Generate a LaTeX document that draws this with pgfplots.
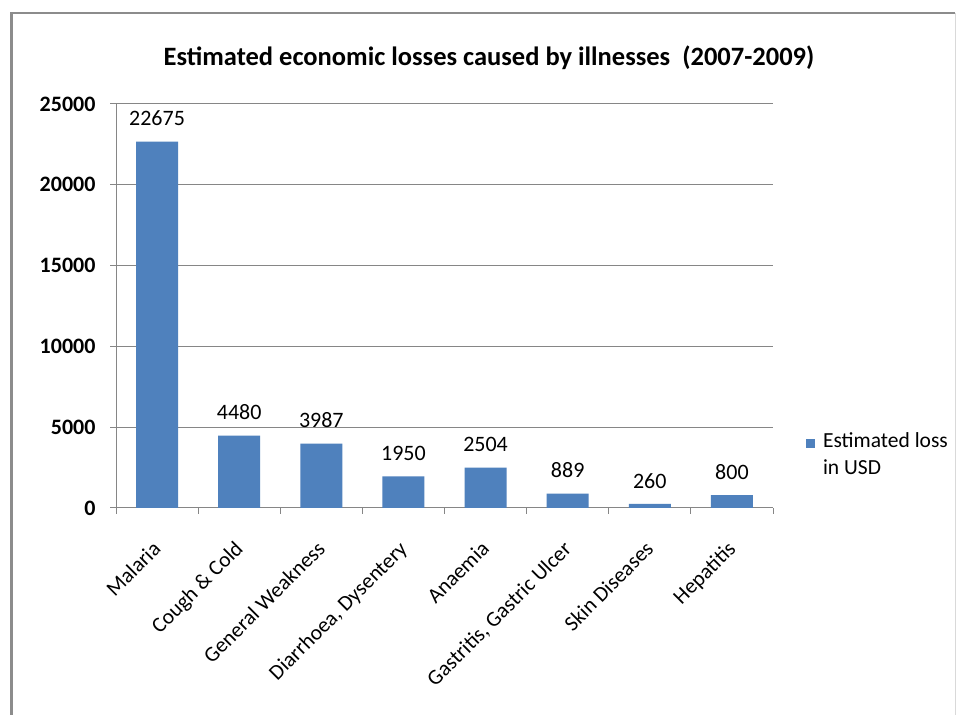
\documentclass[border=0pt]{standalone}
\usepackage{fontspec}
\setmainfont{Carlito}
\usepackage{pgfplots}
\pgfplotsset{compat=1.18}
\definecolor{barblue}{HTML}{4F81BD}
\definecolor{gridgray}{HTML}{868686}
\definecolor{framegray}{HTML}{8C8C8C}
\begin{document}
\begin{tikzpicture}
\useasboundingbox (0pt,0pt) rectangle (959pt,715pt);
\fill[white] (0pt,0pt) rectangle (959pt,715pt);
\draw[framegray, line width=3pt] (11.5pt,0pt) -- (11.5pt,702pt);
\draw[framegray, line width=2pt] (10pt,702pt) -- (955pt,702pt);
\draw[gray!30, line width=1pt] (955pt,702pt) -- (955pt,0pt);
\node[font=\fontsize{26.5}{30}\selectfont\bfseries] at (489pt,657pt) {Estimated economic losses caused by illnesses\ \ (2007-2009)};
\begin{axis}[
  at={(116pt,207pt)}, anchor=south west,
  scale only axis, width=657pt, height=404pt,
  ymin=0, ymax=25000, ytick={0,5000,...,25000},
  xmin=-0.5, xmax=7.5, xtick={0,...,7},
  xticklabels={Malaria, Cough \& Cold, General Weakness, {Diarrhoea, Dysentery}, Anaemia, {Gastritis, Gastric Ulcer}, Skin Diseases, Hepatitis},
  minor xtick={-0.5,0.5,...,7.5},
  axis x line*=bottom, axis y line*=left,
  axis line style={gridgray, line width=1pt, -},
  ymajorgrids, grid style={gridgray, line width=1pt},
  tick align=outside,
  major tick length=6pt, minor tick length=6pt,
  major x tick style={draw=none},
  minor x tick style={gridgray, line width=1pt},
  major y tick style={gridgray, line width=1pt},
  x tick label style={rotate=45, anchor=north east, font=\fontsize{21.5}{26}\selectfont, inner sep=2pt, yshift=-12pt, xshift=-20pt},
  y tick label style={font=\fontsize{22}{26}\selectfont\bfseries, xshift=-11pt},
  /pgf/number format/assume math mode=true,
  /pgf/number format/1000 sep={},
  scaled y ticks=false,
  ybar, bar width=42pt,
  nodes near coords,
  nodes near coords style={font=\fontsize{22}{26}\selectfont, black, yshift=12pt},
  legend style={at={(1.050,0.134)}, anchor=west, draw=none, fill=none, inner sep=0pt,
    font=\fontsize{21.5}{27}\selectfont, cells={align=left}},
  legend image code/.code={\fill[barblue] (0pt,6pt) rectangle (9pt,15pt); \path (15pt,10pt);},
]
\addplot[fill=barblue, draw=none] coordinates {(0,22675) (1,4480) (2,3987) (3,1950) (4,2504) (5,889) (6,260) (7,800)};
\addlegendentry{Estimated loss\\in USD}
\end{axis}
\end{tikzpicture}
\end{document}
